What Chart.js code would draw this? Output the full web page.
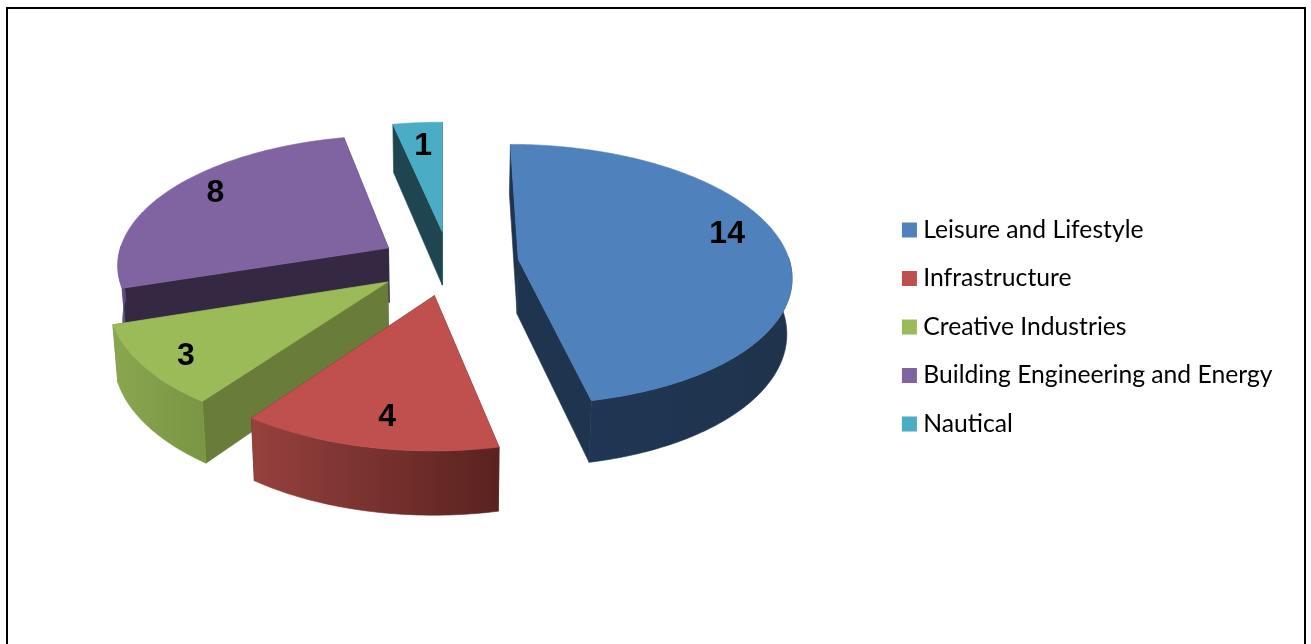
<!DOCTYPE html>
<html>
<head>
<meta charset="utf-8">
<style>
html,body{margin:0;padding:0;background:#fff;overflow:hidden}
#frame{position:absolute;left:6px;top:7px;width:1296px;height:700px;border:2px solid #000}
#c{position:absolute;left:0;top:0}
</style>
<script src="https://cdn.jsdelivr.net/npm/chart.js@4"></script>
</head>
<body>
<div id="frame"></div>
<canvas id="c" width="1311" height="644"></canvas>
<script>
const categories = ['Leisure and Lifestyle','Infrastructure','Creative Industries','Building Engineering and Energy','Nautical'];
const values = [14,4,3,8,1];
const topColors = ['#4f81bd','#c0504d','#9bbb59','#8064a2','#4bacc6'];
const wallColors = ['#1f344f','#5c2320','#6a7c39','#352842','#1f4650'];
const rimLeftColors = ['#203654','#96413e','#8aa650','#6a5387','#1f4650'];
const rimRightColors = ['#1f334c','#5a221f','#7a9543','#5c4678','#1f4650'];
const explode = [70,62,61.5,58.5,62.5];
const explodeTurn = [0,-5,0,0,5.5];
const labelRadius = [.78,.75,.84,.79,.75];
const labelLift = [15,-12,-4,7,2];
const labelShift = [1.5,1.5,1,0,0];
const drawOrder = [4,3,2,0,1];

// camera used to tilt the flat pie that Chart.js lays out
const cam = {sx:1.087, sy:.516, persp:.116, depth:55, base:.985, shiftX:.75, shiftY:-64};

function projector(arc){
  const R = arc.outerRadius, cx = arc.x + cam.shiftX, cy = arc.y + cam.shiftY;
  return {
    top(u,v){
      const w = 1/(1-cam.persp*v);
      return {x:cx+R*cam.sx*u*w, y:cy+R*cam.sy*v*w, w};
    },
    bottom(u,v){
      const p = this.top(u,v);
      return {x:cx+(p.x-cx)*cam.base, y:p.y+cam.depth*p.w};
    }
  };
}
function poly(ctx,pts,fill){
  ctx.beginPath();
  pts.forEach((p,i)=> i?ctx.lineTo(p.x,p.y):ctx.moveTo(p.x,p.y));
  ctx.closePath();
  ctx.fillStyle = fill; ctx.fill();
  ctx.strokeStyle = fill; ctx.lineWidth = .6; ctx.stroke();
}
function sliceOffset(arc,i){
  const mid = (arc.startAngle+arc.endAngle)/2 + explodeTurn[i]*Math.PI/180;
  const d = explode[i]/arc.outerRadius;
  return [d*Math.cos(mid), d*Math.sin(mid)];
}
const pie3d = {
  id:'pie3d',
  beforeDatasetDraw(chart){
    const ctx = chart.ctx, arcs = chart.getDatasetMeta(0).data;
    ctx.save();
    drawOrder.forEach(i=>{
      const arc = arcs[i], pr = projector(arc);
      const [ou,ov] = sliceOffset(arc,i);
      const rim = [];
      const n = Math.max(2,Math.ceil((arc.endAngle-arc.startAngle)*180/Math.PI));
      for(let k=0;k<=n;k++){
        const a = arc.startAngle+(arc.endAngle-arc.startAngle)*k/n;
        rim.push([ou+Math.cos(a),ov+Math.sin(a)]);
      }
      const apex = [ou,ov];
      const T = p=>pr.top(p[0],p[1]), B = p=>pr.bottom(p[0],p[1]);
      const first = rim[0], last = rim[rim.length-1];
      poly(ctx,[T(apex),T(first),B(first),B(apex)],wallColors[i]);
      poly(ctx,[T(apex),T(last),B(last),B(apex)],wallColors[i]);
      const outer = rim.filter(p=>p[1]-ov>=-.02);
      if(outer.length>1){
        const pts = outer.map(T).concat(outer.slice().reverse().map(B));
        const xs = pts.map(p=>p.x);
        const g = ctx.createLinearGradient(Math.min(...xs),0,Math.max(...xs),0);
        g.addColorStop(0,rimLeftColors[i]); g.addColorStop(1,rimRightColors[i]);
        poly(ctx,pts,g);
      }
      poly(ctx,[T(apex)].concat(rim.map(T)),topColors[i]);
    });
    ctx.restore();
    return false;
  },
  afterDatasetsDraw(chart){
    const ctx = chart.ctx, arcs = chart.getDatasetMeta(0).data;
    ctx.save();
    ctx.font = 'bold 32px "Liberation Sans"';
    ctx.fillStyle = '#000';
    ctx.textAlign = 'center'; ctx.textBaseline = 'middle';
    arcs.forEach((arc,i)=>{
      const pr = projector(arc);
      const [ou,ov] = sliceOffset(arc,i);
      const mid = (arc.startAngle+arc.endAngle)/2, f = labelRadius[i];
      const p = pr.top(ou+f*Math.cos(mid), ov+f*Math.sin(mid));
      ctx.fillText(String(values[i]),p.x+labelShift[i],p.y-labelLift[i]);
    });
    ctx.restore();
  }
};
new Chart(document.getElementById('c'),{
  type:'pie',
  data:{labels:categories,datasets:[{data:values,backgroundColor:topColors,borderWidth:0,offset:explode}]},
  options:{
    responsive:false,animation:false,
    radius:250,
    layout:{padding:{top:10,right:28.5}},
    plugins:{
      tooltip:{enabled:false},
      legend:{
        position:'right',
        labels:{
          color:'#000',
          font:{family:'Lato',size:24.7},
          boxWidth:3,boxHeight:3,padding:23.8,
          generateLabels(chart){
            return Chart.overrides.pie.plugins.legend.labels.generateLabels(chart).map(it=>({...it,lineWidth:12,strokeStyle:it.fillStyle}));
          }
        }
      }
    }
  },
  plugins:[pie3d]
});
</script>
</body>
</html>
